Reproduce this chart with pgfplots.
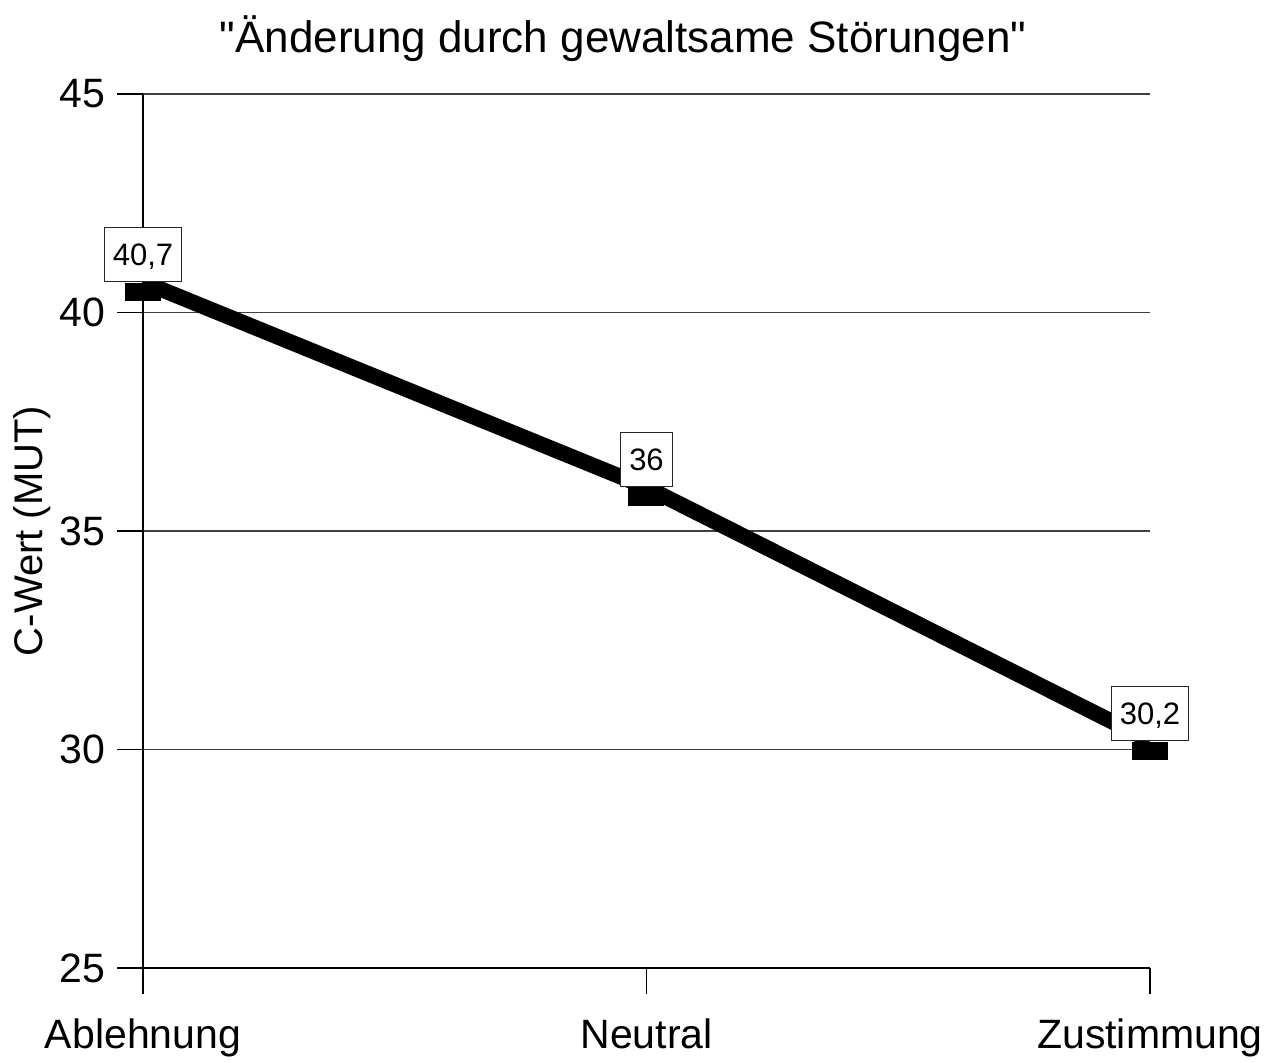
\documentclass[border=0pt]{standalone}
\usepackage{fontspec}
\setmainfont{Liberation Sans}
\newfontfamily\titlefont{Liberation Sans}[Ligatures=TeXOff]
\usepackage{pgfplots}
\pgfplotsset{compat=1.18}
\pgfdeclareplotmark{flatbar}{\pgfpathrectangle{\pgfpoint{-9pt}{-9.5pt}}{\pgfpoint{18pt}{9pt}}\pgfusepathqfill}
\begin{document}
\begin{tikzpicture}
\begin{axis}[
 at={(0,0)}, anchor=south west, scale only axis,
 width=503.5pt, height=437pt,
 xmin=0, xmax=2, ymin=25, ymax=45,
 xtick={0,1,2}, xticklabels={Ablehnung,Neutral,Zustimmung},
 ytick={25,30,35,40,45},
 axis lines=left, axis line style={-, line width=0.75pt, black},
 tick style={line width=0.75pt, black},
 tick align=outside, major tick length=13pt,
 ymajorgrids, grid style={line width=0.75pt, black!75},
 tick label style={font=\fontsize{20.5}{24}\selectfont},
 yticklabel style={xshift=-2.5pt},
 xticklabel style={yshift=-9pt},
 /pgf/number format/assume math mode=true,
 clip=false,
]
\addplot[line width=7.8pt, black, mark=flatbar,
  nodes near coords={\pgfmathprintnumber[use comma]{\pgfplotspointmeta}},
  every node near coord/.append style={anchor=south, draw=black!85, fill=white, line width=0.6pt,
    font=\fontsize{15.5}{18}\selectfont, inner xsep=4.25pt, inner ysep=0pt,
    minimum height=27pt, text height=11.1pt, text depth=0pt}]
 coordinates {(0,40.7) (1,36) (2,30.2)};
\end{axis}
\node[anchor=base, font=\titlefont\fontsize{22}{26}\selectfont] at (240pt,457.5pt) {"Änderung durch gewaltsame Störungen"};
\node[rotate=90, font=\fontsize{20}{24}\selectfont] at (-55.5pt,218.5pt) {C-Wert (MUT)};
\pgfresetboundingbox
\path[use as bounding box] (-71.5pt,-47.5pt) rectangle (569.5pt,484pt);
\end{tikzpicture}
\end{document}
